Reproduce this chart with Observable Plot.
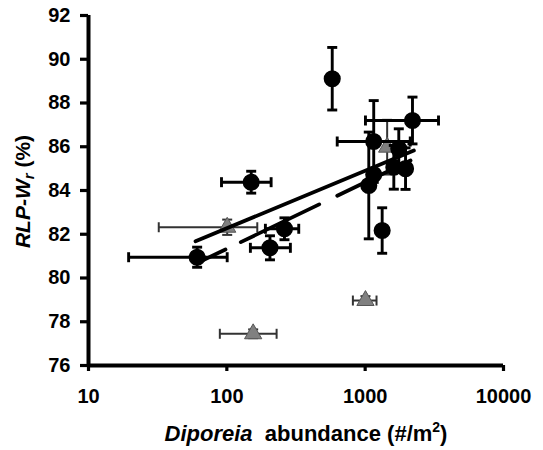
<!DOCTYPE html>
<html>
<head>
<meta charset="utf-8">
<script src="https://cdn.jsdelivr.net/npm/d3@7"></script>
<script src="https://cdn.jsdelivr.net/npm/@observablehq/plot@0.6"></script>
<style>
  html, body { margin: 0; padding: 0; background: #fff; }
  #chart svg { display: block; }
</style>
</head>
<body>
<div id="chart"></div>
<script>
// ---- data ----
const xTicks = [10, 100, 1000, 10000];
const yTicks = [76, 78, 80, 82, 84, 86, 88, 90, 92];

// black circles (Diporeia abundance, RLP-Wr)
const circX    = [61, 150, 205, 261, 578, 1153, 1153, 1062, 1327, 2198, 1750, 1611, 1958];
const circY    = [80.95, 84.38, 81.38, 82.25, 89.11, 86.24, 84.73, 84.23, 82.17, 87.2, 85.91, 85.06, 85.0];
const circXLo  = [19.5, 91.5, 148, 190, null, 628, null, null, null, 1005, null, null, null];
const circXHi  = [100.6, 209, 288, 331, null, 2118, null, null, null, 3390, null, null, null];
const circYErr = [0.46, 0.5, 0.55, 0.5, 1.43, 1.87, null, 2.44, 1.04, 1.07, 0.91, 1.0, 0.95];

// grey triangles
const triX    = [100.6, 155, 1005, 1442];
const triY    = [82.32, 77.45, 78.97, 85.98];
const triXLo  = [32.2, 89, 815, null];
const triXHi  = [166, 229, 1208, null];
const triYErr = [0.35, 0.2, 0.2, 1.25];

// regression lines (end points)
const solidX = [59.4, 2249];
const solidY = [81.68, 85.83];
const dashX  = [68.2, 2128];
const dashY  = [80.83, 85.37];

// ---- build tables ----
const circles = circX.map((x, i) => ({x, y: circY[i], xlo: circXLo[i], xhi: circXHi[i], ye: circYErr[i]}));
const tris = triX.map((x, i) => ({x, y: triY[i], xlo: triXLo[i], xhi: triXHi[i], ye: triYErr[i]}));
const solid = solidX.map((x, i) => ({x, y: solidY[i]}));
const dashed = dashX.map((x, i) => ({x, y: dashY[i]}));

const hCap = {draw(ctx) { ctx.moveTo(-5, 0); ctx.lineTo(5, 0); }};
const vCap = {draw(ctx) { ctx.moveTo(0, -5); ctx.lineTo(0, 5); }};

function errMarks(data, color, sw) {
  const xe = data.filter(d => d.xlo != null);
  const ye = data.filter(d => d.ye != null);
  return [
    Plot.link(xe, {x1: "xlo", x2: "xhi", y1: "y", y2: "y", stroke: color, strokeWidth: sw}),
    Plot.dot(xe, {x: "xlo", y: "y", symbol: vCap, stroke: color, strokeWidth: sw, fill: "none"}),
    Plot.dot(xe, {x: "xhi", y: "y", symbol: vCap, stroke: color, strokeWidth: sw, fill: "none"}),
    Plot.link(ye, {x1: "x", x2: "x", y1: d => d.y - d.ye, y2: d => d.y + d.ye, stroke: color, strokeWidth: sw}),
    Plot.dot(ye, {x: "x", y: d => d.y - d.ye, symbol: hCap, stroke: color, strokeWidth: sw, fill: "none"}),
    Plot.dot(ye, {x: "x", y: d => d.y + d.ye, symbol: hCap, stroke: color, strokeWidth: sw, fill: "none"})
  ];
}

const chart = Plot.plot({
  width: 543,
  height: 450,
  marginLeft: 88,
  marginRight: 40,
  marginTop: 15,
  marginBottom: 85,
  style: {fontFamily: "Arial, 'Liberation Sans', sans-serif", color: "black", background: "white"},
  x: {type: "log", domain: [10, 10000]},
  y: {domain: [76, 92]},
  marks: [
    Plot.axisY({ticks: yTicks, tickSize: 8, tickPadding: 10, fontSize: 20, fontWeight: "bold", strokeWidth: 3.2, label: null}),
    Plot.axisX({ticks: xTicks, tickFormat: d => String(d), tickSize: 6, tickPadding: 17, fontSize: 20, fontWeight: "bold", strokeWidth: 3.2, label: null}),
    ...errMarks(tris, "#333", 2),
    Plot.dot(tris, {x: "x", y: "y", symbol: "triangle", r: 6.4, fill: "#808080", stroke: "#555", strokeWidth: 1}),
    Plot.line(solid, {x: "x", y: "y", stroke: "black", strokeWidth: 3.8}),
    Plot.line(dashed, {x: "x", y: "y", stroke: "black", strokeWidth: 3.8, strokeDasharray: "24,17,87,20,120"}),
    ...errMarks(circles, "black", 2.9),
    Plot.dot(circles, {x: "x", y: "y", r: 7.8, fill: "black", stroke: "black"}),
    Plot.ruleX([10], {y1: 76, y2: 92, stroke: "black", strokeWidth: 4}),
    Plot.ruleY([76], {x1: 10, x2: 10000, stroke: "black", strokeWidth: 4})
  ]
});

document.getElementById("chart").appendChild(chart);

// axis titles with mixed styles
const svg = d3.select(chart);
const yt = svg.append("text")
  .attr("transform", "translate(30,191.5) rotate(-90)")
  .attr("text-anchor", "middle")
  .attr("font-size", 21)
  .attr("font-weight", "bold")
  .attr("font-family", "Arial, 'Liberation Sans', sans-serif")
  .attr("fill", "black");
yt.append("tspan").attr("font-style", "italic").text("RLP-W");
yt.append("tspan").attr("font-style", "italic").attr("font-size", 15).attr("dy", 4).text("r");
yt.append("tspan").attr("dy", -4).text(" (%)");

const xt = svg.append("text")
  .attr("x", 306)
  .attr("y", 441)
  .attr("text-anchor", "middle")
  .attr("font-size", 22)
  .attr("font-weight", "bold")
  .attr("font-family", "Arial, 'Liberation Sans', sans-serif")
  .attr("fill", "black");
xt.append("tspan").attr("font-style", "italic").text("Diporeia");
xt.append("tspan").text("\u00a0 abundance (#/m");
xt.append("tspan").attr("font-size", 14).attr("dy", -9).text("2");
xt.append("tspan").attr("dy", 9).text(")");
</script>
</body>
</html>
